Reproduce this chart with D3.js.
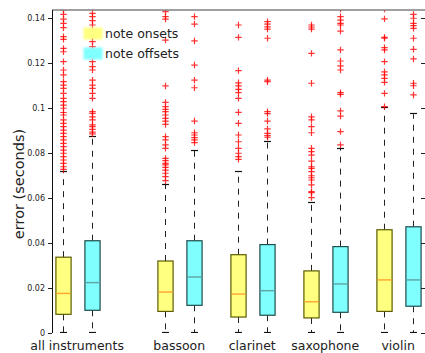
<!DOCTYPE html>
<html>
<head>
<meta charset="utf-8">
<script src="https://cdn.jsdelivr.net/npm/d3@7/dist/d3.min.js"></script>
<style>
  body { margin: 0; background: #fff; }
  text { font-family: "DejaVu Sans", sans-serif; fill: #222; }
</style>
</head>
<body>
<div id="chart"></div>
<script>
// categories and where each group sits on the x scale
const GROUPS = ['all instruments', 'bassoon', 'clarinet', 'saxophone', 'violin'];
const POSITIONS = [0, 3.5, 6, 8.5, 11];   // onset box; offset box sits one unit right
const Y_TICKS = [0, 0.02, 0.04, 0.06, 0.08, 0.1, 0.12, 0.14];

// [lower whisker, q1, median, q3, upper whisker] per group
const ONSET_BOXES = [
    [0, 0.0083, 0.0176, 0.0337, 0.0717],
    [0, 0.0096, 0.0182, 0.0320, 0.0658],
    [0, 0.0071, 0.0173, 0.0348, 0.0714],
    [0, 0.0067, 0.0139, 0.0276, 0.0578],
    [0, 0.0096, 0.0236, 0.0459, 0.0999]
];
const OFFSET_BOXES = [
    [0, 0.0101, 0.0224, 0.0410, 0.0873],
    [0, 0.0123, 0.0249, 0.0410, 0.0810],
    [0, 0.0079, 0.0188, 0.0393, 0.0850],
    [0, 0.0092, 0.0218, 0.0384, 0.0818],
    [0, 0.0119, 0.0236, 0.0472, 0.0972]
];

// outliers (values above the top of the axis get clipped like in the original)
const ONSET_OUTLIERS = [
    [0.1450, 0.1436, 0.1416, 0.1395, 0.1376, 0.1357, 0.1317, 0.1305, 0.1265, 0.1250, 0.1206, 0.1169,
     0.1147, 0.1117, 0.1102, 0.1087, 0.1065, 0.1043, 0.1028, 0.1013, 0.0999, 0.0980, 0.0969, 0.0947,
     0.0932, 0.0917, 0.0902, 0.0887, 0.0873, 0.0858, 0.0843, 0.0828, 0.0813, 0.0799, 0.0784, 0.0769,
     0.0754, 0.0739, 0.0727],
    [0.1445, 0.1428, 0.1406, 0.1395, 0.1302, 0.1098, 0.1025, 0.1006, 0.0994, 0.0984, 0.0969, 0.0954,
     0.0942, 0.0927, 0.0873, 0.0858, 0.0836, 0.0821, 0.0776, 0.0766, 0.0754, 0.0747, 0.0736, 0.0724,
     0.0710, 0.0695, 0.0677],
    [0.1369, 0.1314, 0.1166, 0.1112, 0.1098, 0.1083, 0.1068, 0.1043, 0.0981, 0.0932, 0.0880, 0.0850,
     0.0821, 0.0799, 0.0784, 0.0772],
    [0.1369, 0.1360, 0.1351, 0.1243, 0.1110, 0.0961, 0.0947, 0.0917, 0.0890, 0.0821, 0.0806, 0.0791,
     0.0764, 0.0739, 0.0732, 0.0717, 0.0699, 0.0690, 0.0680, 0.0658, 0.0628, 0.0624, 0.0602],
    [0.1440, 0.1396, 0.1314, 0.1310, 0.1268, 0.1258, 0.1206, 0.1161, 0.1147, 0.1132, 0.1114, 0.1065,
     0.1006]
];
const OFFSET_OUTLIERS = [
    [0.1445, 0.1421, 0.1406, 0.1388, 0.1369, 0.1339, 0.1317, 0.1295, 0.1273, 0.1243, 0.1206, 0.1184,
     0.1169, 0.1124, 0.1102, 0.1087, 0.1065, 0.1043, 0.0984, 0.0976, 0.0961, 0.0947, 0.0925, 0.0917,
     0.0905, 0.0893, 0.0885],
    [0.1406, 0.1373, 0.1298, 0.1191, 0.1124, 0.1090, 0.0942, 0.0890, 0.0880, 0.0868, 0.0858, 0.0846],
    [0.1384, 0.1373, 0.1361, 0.1351, 0.1310, 0.1124, 0.1117, 0.0984, 0.0975, 0.0942, 0.0907, 0.0887,
     0.0877, 0.0870],
    [0.1440, 0.1406, 0.1391, 0.1376, 0.1369, 0.1342, 0.1258, 0.1209, 0.1187, 0.1169, 0.1068, 0.1061,
     0.0987, 0.0964, 0.0895, 0.0836],
    [0.1416, 0.1399, 0.1376, 0.1366, 0.1354, 0.1310, 0.1261, 0.1218, 0.1110, 0.1099, 0.1058]
];

const SERIES = [
    {name: 'note onsets',  boxes: ONSET_BOXES,  outliers: ONSET_OUTLIERS,  shift: 0,
     fill: '#ffff80', stroke: '#5c5c00', median: '#ffa833'},
    {name: 'note offsets', boxes: OFFSET_BOXES, outliers: OFFSET_OUTLIERS, shift: 1,
     fill: '#80ffff', stroke: '#1c4c4c', median: '#5fa8a8'}
];

const W = 425, H = 353;
const PLOT = {left: 52, right: 425, top: 10, bottom: 333};

const svg = d3.select('#chart')
    .append('svg')
    .attr('width', W)
    .attr('height', H);

const x = d3.scaleLinear()
    .domain([-0.36, 12.42])
    .range([PLOT.left, PLOT.right]);

const y = d3.scaleLinear()
    .domain([0, 0.14356])
    .range([PLOT.bottom, PLOT.top]);

const BOX_W = x(0.26) - x(-0.26);
const CAP_W = 7;

svg.append('defs')
    .append('clipPath')
    .attr('id', 'plotclip')
    .append('rect')
    .attr('x', PLOT.left)
    .attr('y', PLOT.top)
    .attr('width', PLOT.right - PLOT.left)
    .attr('height', PLOT.bottom - PLOT.top);

svg.select('defs')
    .append('filter')
    .attr('id', 'soft')
    .append('feGaussianBlur')
    .attr('stdDeviation', 0.8);

const plot = svg.append('g').attr('clip-path', 'url(#plotclip)');

// boxes, whiskers and outliers for each series
SERIES.forEach(s => {
    const g = plot.append('g').attr('class', 'series');

    const items = GROUPS.map((name, i) => ({
        cx: Math.round(x(POSITIONS[i] + s.shift)) + 0.5,
        stats: s.boxes[i],
        outliers: s.outliers[i]
    }));

    const grp = g.selectAll('.grp').data(items).enter().append('g').attr('class', 'grp');

    // dashed whiskers
    grp.append('line')
        .attr('x1', d => d.cx).attr('x2', d => d.cx)
        .attr('y1', d => y(d.stats[3])).attr('y2', d => y(d.stats[4]))
        .attr('stroke', '#222').attr('stroke-width', 1)
        .attr('stroke-dasharray', '6,6');
    grp.append('line')
        .attr('x1', d => d.cx).attr('x2', d => d.cx)
        .attr('y1', d => y(d.stats[1])).attr('y2', d => y(d.stats[0]))
        .attr('stroke', '#222').attr('stroke-width', 1)
        .attr('stroke-dasharray', '6,6');

    // whisker caps
    [0, 4].forEach(k => {
        grp.append('line')
            .attr('x1', d => d.cx - CAP_W / 2).attr('x2', d => d.cx + CAP_W / 2)
            .attr('y1', d => Math.round(y(d.stats[k])) - 0.5).attr('y2', d => Math.round(y(d.stats[k])) - 0.5)
            .attr('stroke', '#111').attr('stroke-width', 1.2);
    });

    // box
    grp.append('rect')
        .attr('x', d => d.cx - BOX_W / 2)
        .attr('y', d => y(d.stats[3]))
        .attr('width', BOX_W)
        .attr('height', d => y(d.stats[1]) - y(d.stats[3]))
        .attr('fill', s.fill)
        .attr('stroke', s.stroke)
        .attr('stroke-width', 1.2);

    // median
    grp.append('line')
        .attr('x1', d => d.cx - BOX_W / 2 + 0.6).attr('x2', d => d.cx + BOX_W / 2 - 0.6)
        .attr('y1', d => y(d.stats[2])).attr('y2', d => y(d.stats[2]))
        .attr('stroke', s.median).attr('stroke-width', 1.5);

    // outliers as red plus signs
    grp.selectAll('.out')
        .data(d => d.outliers.map(v => ({cx: d.cx, v: v})))
        .enter()
        .append('path')
        .attr('class', 'out')
        .attr('d', d => {
            const cy = y(d.v), r = 3.2;
            return `M${d.cx - r},${cy}H${d.cx + r}M${d.cx},${cy - r}V${cy + r}`;
        })
        .attr('stroke', '#ff0000')
        .attr('stroke-opacity', 0.8)
        .attr('stroke-width', 1.2)
        .attr('fill', 'none');
});

// frame: gray top line, left axis, inward ticks on the right
svg.append('line')
    .attr('x1', PLOT.left).attr('x2', W)
    .attr('y1', PLOT.top).attr('y2', PLOT.top)
    .attr('stroke', '#808080').attr('stroke-width', 1.6);

const yAxis = d3.axisLeft(y)
    .tickValues(Y_TICKS)
    .tickFormat(d => d === 0 ? '0' : d3.format('.2~f')(d))
    .tickSize(4)
    .tickPadding(3);

const gy = svg.append('g')
    .attr('transform', `translate(${PLOT.left},0)`)
    .call(yAxis);
gy.select('.domain').attr('stroke', '#111').attr('d', `M0.5,${PLOT.top}V${PLOT.bottom}`);
gy.selectAll('.tick line').attr('stroke', '#222');
gy.selectAll('.tick text')
    .style('font-family', '"DejaVu Sans", sans-serif')
    .style('font-size', '8px')
    .attr('fill', '#222');

const gyr = svg.append('g')
    .attr('transform', `translate(${PLOT.right},0)`)
    .call(d3.axisLeft(y).tickValues(Y_TICKS).tickSize(4).tickFormat(''));
gyr.select('.domain').remove();
gyr.selectAll('.tick line').attr('stroke', '#222');

// axis title
svg.append('text')
    .attr('transform', `translate(23.5,184) rotate(-90)`)
    .attr('text-anchor', 'middle')
    .style('font-size', '14.5px')
    .text('error (seconds)');

// group labels
svg.selectAll('.xlabel')
    .data(GROUPS)
    .enter()
    .append('text')
    .attr('class', 'xlabel')
    .attr('x', (d, i) => x(POSITIONS[i] + 0.5))
    .attr('y', 349.5)
    .attr('text-anchor', 'middle')
    .style('font-size', '12.5px')
    .text(d => d);

// legend
const legend = svg.append('g').attr('class', 'legend');
SERIES.forEach((s, i) => {
    legend.append('rect')
        .attr('x', 83.5).attr('y', 27.5 + i * 20)
        .attr('width', 19).attr('height', 12)
        .attr('fill', s.fill)
        .attr('filter', 'url(#soft)');
    legend.append('text')
        .attr('x', 105).attr('y', 37.5 + i * 20)
        .style('font-size', '12.5px')
        .text(s.name);
});
</script>
</body>
</html>
